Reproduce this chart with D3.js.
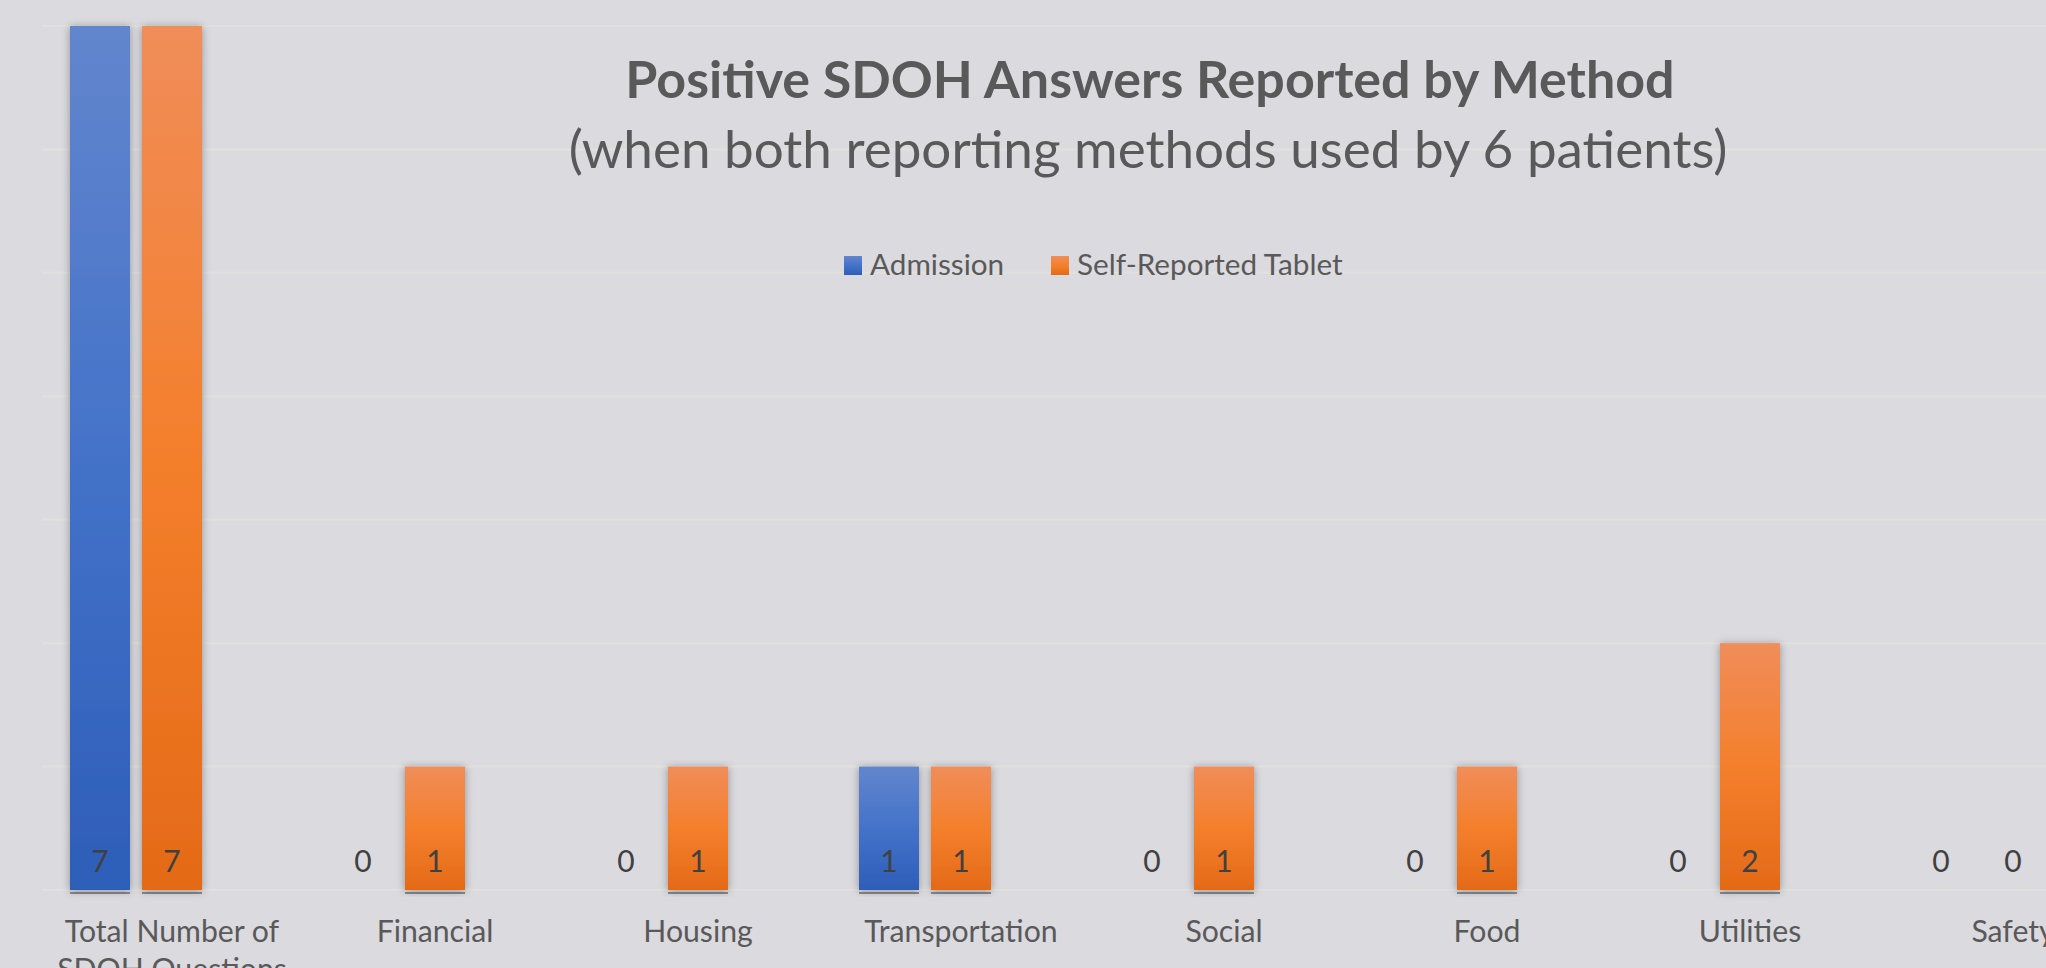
<!DOCTYPE html>
<html>
<head>
<meta charset="utf-8">
<script src="https://cdn.jsdelivr.net/npm/d3@7"></script>
<style>
  html, body { margin: 0; padding: 0; background: #dbdadf; overflow: hidden; }
  svg { display: block; }
  text { font-family: Lato, "Open Sans", sans-serif; }
</style>
</head>
<body>
<svg id="chart" width="2046" height="968"></svg>
<script>
const categories = ["Total Number of SDOH Questions", "Financial", "Housing", "Transportation", "Social", "Food", "Utilities", "Safety"];
const seriesNames = ["Admission", "Self-Reported Tablet"];
const admission = [7, 0, 0, 1, 0, 0, 0, 0];
const selfReported = [7, 1, 1, 1, 1, 1, 2, 0];
const yTicks = [0, 1, 2, 3, 4, 5, 6, 7];
const titleText = "Positive SDOH Answers Reported by Method";
const subtitleText = "(when both reporting methods used by 6 patients)";

const W = 2046, H = 968;
const svg = d3.select("#chart");

// gradients & filter
const defs = svg.append("defs");
const grads = [
  {id: "gBlue", stops: [["0%", "#6286cd"], ["50%", "#4472c9"], ["100%", "#2d5eb8"]]},
  {id: "gOrange", stops: [["0%", "#f08d59"], ["50%", "#f47f2c"], ["100%", "#e46a17"]]}
];
grads.forEach(g => {
  const lg = defs.append("linearGradient").attr("id", g.id).attr("x1", 0).attr("y1", 0).attr("x2", 0).attr("y2", 1);
  g.stops.forEach(s => lg.append("stop").attr("offset", s[0]).attr("stop-color", s[1]));
});
const f = defs.append("filter").attr("id", "shadow").attr("x", "-30%").attr("y", "-5%").attr("width", "160%").attr("height", "110%");
f.append("feDropShadow").attr("dx", 0).attr("dy", 1).attr("stdDeviation", 4).attr("flood-color", "#000").attr("flood-opacity", 0.35);

const colorIds = ["url(#gBlue)", "url(#gOrange)"];

// scales
const x0 = d3.scaleBand().domain(categories).range([4.5, 4.5 + 263 * categories.length]).paddingInner(0).paddingOuter(0);
const x1 = d3.scaleBand().domain(seriesNames).range([-66, 66]).paddingInner(12 / 72).paddingOuter(0);
const y = d3.scaleLinear().domain([0, 7]).range([890, 26]);

// gridlines
svg.append("g").selectAll("line").data(yTicks).join("line")
  .attr("x1", 42).attr("x2", W)
  .attr("y1", d => y(d)).attr("y2", d => y(d))
  .attr("stroke", "#e1e1dc").attr("stroke-width", 2);

// title
svg.append("text").attr("x", 1150).attr("y", 98).attr("text-anchor", "middle")
  .attr("font-size", 52).attr("font-weight", 700).attr("fill", "#595959").text(titleText);
svg.append("text").attr("x", 1148).attr("y", 168).attr("text-anchor", "middle")
  .attr("font-size", 53).attr("fill", "#595959").text(subtitleText);

// legend
const legendItems = [
  {name: seriesNames[0], sx: 844, tx: 870},
  {name: seriesNames[1], sx: 1051, tx: 1077}
];
const lg = svg.append("g");
legendItems.forEach((it, i) => {
  lg.append("rect").attr("x", it.sx).attr("y", 256).attr("width", 18).attr("height", 19).attr("fill", colorIds[i]);
  lg.append("text").attr("x", it.tx).attr("y", 275).attr("font-size", 29.7).attr("fill", "#595959").text(it.name);
});

// data
const data = categories.map((c, i) => ({cat: c, vals: [admission[i], selfReported[i]]}));

const groups = svg.append("g").selectAll("g").data(data).join("g")
  .attr("transform", d => `translate(${x0(d.cat) + x0.bandwidth() / 2},0)`);

// base shadow lines
groups.selectAll("rect.base").data(d => d.vals.map((v, k) => ({v, k})).filter(e => e.v > 0)).join("rect")
  .attr("class", "base")
  .attr("x", e => x1(seriesNames[e.k]))
  .attr("y", y(0) + 2)
  .attr("width", x1.bandwidth())
  .attr("height", 2)
  .attr("fill", "#6e6e74").attr("opacity", 0.75);

groups.selectAll("rect.bar").data(d => d.vals.map((v, k) => ({v, k})).filter(e => e.v > 0)).join("rect")
  .attr("class", "bar")
  .attr("x", e => x1(seriesNames[e.k]))
  .attr("y", e => y(e.v))
  .attr("width", x1.bandwidth())
  .attr("height", e => y(0) - y(e.v))
  .attr("fill", e => colorIds[e.k])
  .attr("filter", "url(#shadow)");

groups.selectAll("text.lbl").data(d => d.vals.map((v, k) => ({v, k}))).join("text")
  .attr("class", "lbl")
  .attr("x", e => x1(seriesNames[e.k]) + x1.bandwidth() / 2)
  .attr("y", 872)
  .attr("text-anchor", "middle")
  .attr("font-size", 30)
  .attr("fill", "#404040")
  .text(e => e.v);

// category labels (wrapped), centred under the second bar as in the reference
const wrapLines = {"Total Number of SDOH Questions": ["Total Number of", "SDOH Questions"]};
const labelX = d => x0(d.cat) + x0.bandwidth() / 2 + x1(seriesNames[1]) + x1.bandwidth() / 2;
const xAxis = svg.append("g");
data.forEach(d => {
  const lines = wrapLines[d.cat] || [d.cat];
  const t = xAxis.append("text")
    .attr("x", labelX(d))
    .attr("y", 942)
    .attr("text-anchor", "middle")
    .attr("font-size", 30.2)
    .attr("fill", "#595959");
  lines.forEach((ln, i) => {
    t.append("tspan").attr("x", labelX(d)).attr("dy", i === 0 ? 0 : 38).text(ln);
  });
});
</script>
</body>
</html>
